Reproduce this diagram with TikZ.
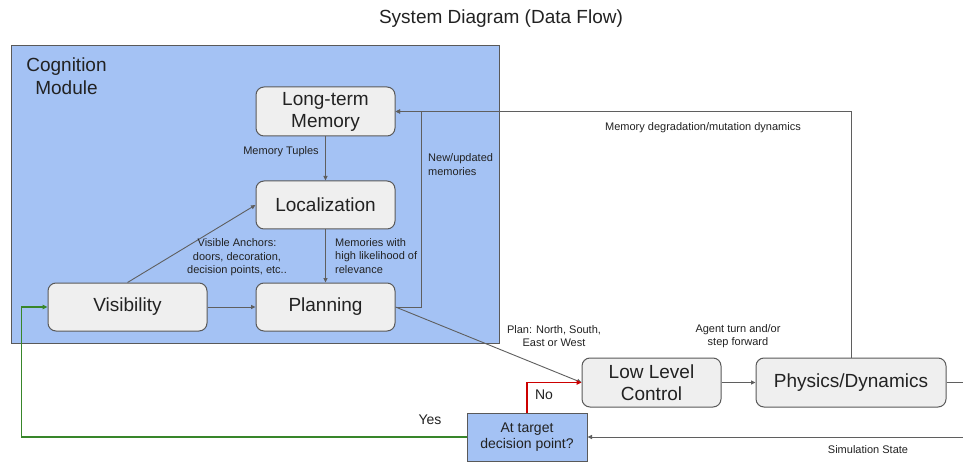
\documentclass[tikz,border=0pt]{standalone}
\usepackage{fontspec}
\setmainfont{Liberation Sans}
\usetikzlibrary{arrows.meta}
\definecolor{cogblue}{HTML}{A4C2F4}
\definecolor{boxgray}{HTML}{EFEFEF}
\definecolor{edgegray}{HTML}{595959}
\definecolor{linegray}{HTML}{5F5F5F}
\definecolor{txt}{HTML}{222222}
\definecolor{yesgreen}{HTML}{38862A}
\definecolor{nored}{HTML}{CC0000}
\tikzset{
  module/.style={draw=edgegray, line width=1pt, fill=cogblue, inner sep=0pt},
  procbox/.style={draw=edgegray, line width=1pt, fill=boxgray, rounded corners=8pt,
    inner sep=0pt, align=center, font=\fontsize{19}{22}\selectfont, text=txt},
  decbox/.style={draw=edgegray, line width=1pt, fill=cogblue, inner sep=0pt,
    align=center, font=\fontsize{14}{16.7}\selectfont, text=txt},
  flow/.style={draw=linegray, line width=0.9pt, -{Triangle[length=4.5pt,width=4pt]}},
  plainline/.style={draw=linegray, line width=0.9pt},
  colflow/.style={line width=1.25pt, -{Triangle[length=5pt,width=4.5pt]}},
  lbl/.style={font=\fontsize{11}{13.4}\selectfont, text=txt, inner sep=0pt},
  biglbl/.style={font=\fontsize{14}{16}\selectfont, text=txt, inner sep=0pt},
}
\begin{document}
\begin{tikzpicture}[x=1pt,y=-1pt]
\useasboundingbox (0,0) rectangle (963,462);
\fill[white] (0,0) rectangle (963,462);

% title
\node[font=\fontsize{19}{22}\selectfont, text=txt, inner sep=0pt] (title) at (501,19) {System Diagram (Data Flow)};

% cognition module
\node[module, minimum width=488pt, minimum height=297pt] (cog) at (255,194.5) {};
\node[align=center, font=\fontsize{19}{23}\selectfont, text=txt, inner sep=0pt] (cogtitle) at (66.5,76) {Cognition\\Module};

% process boxes
\node[procbox, minimum width=139pt, minimum height=49pt] (ltm) at (325.5,111.5) {Long-term\\Memory};
\node[procbox, minimum width=139pt, minimum height=48pt] (loc) at (325.5,205) {Localization};
\node[procbox, minimum width=139pt, minimum height=48pt] (plan) at (325.5,307) {Planning};
\node[procbox, minimum width=159pt, minimum height=48pt] (vis) at (127.5,307) {Visibility};
\node[procbox, minimum width=139pt, minimum height=49pt] (llc) at (651.5,382.5) {Low Level\\Control};
\node[procbox, minimum width=190pt, minimum height=49pt] (phys) at (851,382.5) {Physics/Dynamics};
\node[decbox, minimum width=120pt, minimum height=48pt] (dec) at (527,437) {At target\\decision point?};

% coordinates
\coordinate (nu) at (421.5,111.5);
\coordinate (re1) at (963,382.5);
\coordinate (re2) at (963,437);
\coordinate (gc) at (21.7,380);

% connectors
\draw[flow] (ltm.south) -- (loc.north);
\draw[flow] (loc.south) -- (plan.north);
\draw[flow] (vis.east) -- (plan.west);
\draw[flow] (vis.north) -- (loc.west);
\draw[flow] (plan.east) -| (nu) -- (ltm.east);
\draw[flow] (phys.north) |- (ltm.east);
\draw[flow] (plan.east) -- (llc.west);
\draw[flow] (llc.east) -- (phys.west);
\draw[plainline] (phys.east) -- (re1);
\draw[flow] (re2) -- (dec.east);
\draw[colflow, color=nored] (dec.north) |- (llc.west);
\draw[colflow, color=yesgreen] (dec.west) -| (gc) |- (vis.west);

% labels
\node[lbl] (lmt) at (281,152) {Memory Tuples};
\node[lbl, align=center] (lva) at (237,257.5) {Visible Anchors:\\doors, decoration,\\decision points, etc..};
\node[lbl, align=left, anchor=west] (lmh) at (335,256) {Memories with\\high likelihood of\\relevance};
\node[lbl, align=left, anchor=west] (lnu) at (428,164.5) {New/updated\\memories};
\node[lbl] (lmd) at (703,128) {Memory degradation/mutation dynamics};
\node[lbl, align=center] (lpl) at (554,336) {Plan: North, South,\\East or West};
\node[lbl, align=center] (lag) at (738,336) {Agent turn and/or\\step forward};
\node[biglbl] (lno) at (544,395) {No};
\node[biglbl] (lyes) at (430,420) {Yes};
\node[lbl] (lss) at (868,450) {Simulation State};
\end{tikzpicture}
\end{document}
